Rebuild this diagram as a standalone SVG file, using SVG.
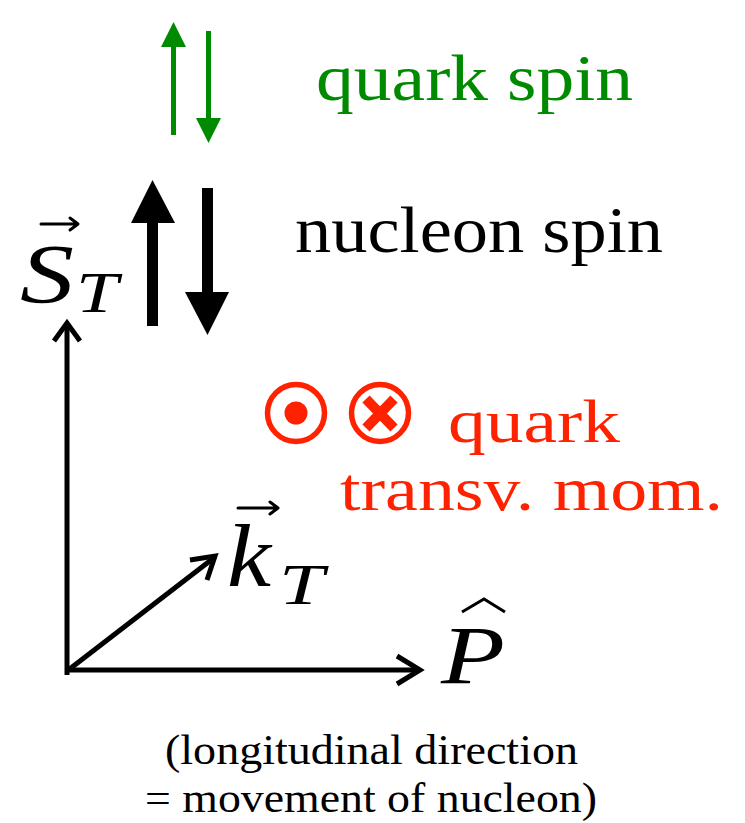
<svg xmlns="http://www.w3.org/2000/svg" width="745" height="823" viewBox="0 0 745 823">
<style>
.t{font-family:"Liberation Serif","Times New Roman",serif;}
.m{font-family:"Liberation Serif","Times New Roman",serif;font-style:italic;}
.ax{fill:none;stroke:#000;stroke-width:5;stroke-linejoin:miter;stroke-linecap:butt;}
.vec{fill:none;stroke:#000;stroke-width:3;stroke-linecap:round;stroke-linejoin:round;}
.green{fill:#008a00;}
.red{fill:#ff2200;}
</style>
<rect width="745" height="823" fill="#fff"/>
<g id="quark-spin-arrows" class="green">
  <rect x="171" y="45" width="5" height="90"/>
  <polygon points="161,47 173.5,22 186,47"/>
  <rect x="206" y="31" width="5" height="89"/>
  <polygon points="196,118 221,118 208.5,143"/>
</g>
<g id="quark-spin-label"><text class="t" x="316" y="100" font-size="66" textLength="317" lengthAdjust="spacingAndGlyphs" fill="#008a00">quark spin</text></g>
<g id="nucleon-spin-arrows">
  <rect x="147" y="220" width="11" height="106"/>
  <polygon points="131,223 152.5,180 175,223"/>
  <rect x="202" y="188" width="11" height="106"/>
  <polygon points="185,292 229,292 207.5,335"/>
</g>
<g id="nucleon-spin-label"><text class="t" x="295" y="252" font-size="66" textLength="368" lengthAdjust="spacingAndGlyphs">nucleon spin</text></g>
<g id="transverse-symbols">
  <circle cx="296" cy="413" r="28.5" fill="none" stroke="#ff2200" stroke-width="5.5"/>
  <circle cx="296" cy="413" r="11.5" class="red"/>
  <circle cx="380" cy="413" r="28.5" fill="none" stroke="#ff2200" stroke-width="5.5"/>
  <path d="M366,399 L394,428 M394,399 L366,428" stroke="#ff2200" stroke-width="10" fill="none"/>
</g>
<g id="quark-transv-label" fill="#ff2200">
  <text class="t" x="448" y="442" font-size="61" textLength="172" lengthAdjust="spacingAndGlyphs">quark</text>
  <text class="t" x="340" y="510" font-size="61" textLength="383" lengthAdjust="spacingAndGlyphs">transv. mom.</text>
</g>
<g id="connectors">
  <path class="ax" d="M67,675 L67,324"/>
  <path class="ax" d="M54,341 L67,323 L80,341"/>
  <path class="ax" d="M65,670 L419,670"/>
  <path class="ax" d="M397,656 L420,670 L397,684"/>
  <path class="ax" d="M67,671 L215,557"/>
  <path class="ax" d="M190,560 L215,556 L207,580"/>
</g>
<g id="S_T">
  <text class="m" x="20" y="303" font-size="84" textLength="54" lengthAdjust="spacingAndGlyphs">S</text>
  <text class="m" x="76" y="312" font-size="58" textLength="42" lengthAdjust="spacingAndGlyphs">T</text>
  <path class="vec" d="M41,224 L77,224 M70,218 L78,224 L70,230"/>
</g>
<g id="k_T">
  <text class="m" x="227" y="586" font-size="88" textLength="44" lengthAdjust="spacingAndGlyphs">k</text>
  <text class="m" x="279" y="604" font-size="58" textLength="45" lengthAdjust="spacingAndGlyphs">T</text>
  <path class="vec" d="M238,508 L277,508 M270,502 L278,508 L270,514"/>
</g>
<g id="P_hat">
  <text class="m" x="441" y="683" font-size="82" textLength="64" lengthAdjust="spacingAndGlyphs">P</text>
  <path d="M462,612 L484,599 L505,612" fill="none" stroke="#000" stroke-width="3"/>
</g>
<g id="caption">
  <text class="t" x="165" y="764" font-size="43" textLength="413" lengthAdjust="spacingAndGlyphs">(longitudinal direction</text>
  <text class="t" x="145" y="812" font-size="43" textLength="452" lengthAdjust="spacingAndGlyphs">= movement of nucleon)</text>
</g>
</svg>
